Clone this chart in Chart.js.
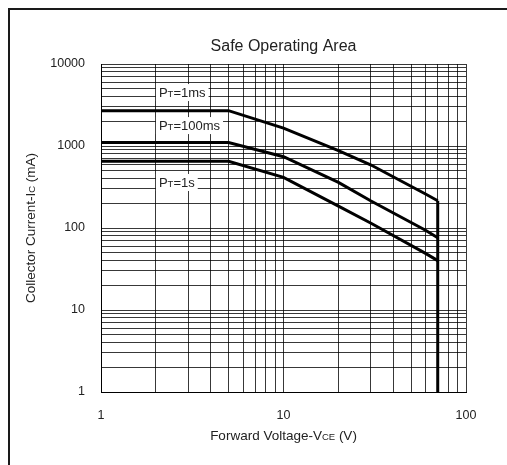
<!DOCTYPE html>
<html>
<head>
<meta charset="utf-8">
<script src="https://cdn.jsdelivr.net/npm/chart.js@4.4.0/dist/chart.umd.min.js"></script>
<style>
    html, body { margin: 0; padding: 0; background: #fff; overflow: hidden; }
    #wrap { position: relative; width: 507px; height: 465px; }
    #frame { position: absolute; left: 8px; top: 8px; width: 620px; height: 620px;
             border-left: 2px solid #1a1a1a; border-top: 2px solid #1a1a1a; }
    #soa { position: absolute; left: 0; top: 0; }
</style>
</head>
<body>
<div id="wrap">
    <div id="frame"></div>
    <canvas id="soa" width="507" height="465"></canvas>
</div>
<script>
// Data (VCE in V, IC in mA)
const vce = [1, 5, 10, 20, 30, 60, 70];
const ic1ms = [2700, 2700, 1650, 880, 590, 260, 215];
const ic100ms = [1100, 1100, 740, 360, 215, 94, 76];
const ic1s = [650, 650, 415, 185, 115, 49, 40];

// Vertical VCE limit at 70 V
const limitV = [70, 70];
const limitI = [215, 1];

// Tick labels and grid steps
const xTickLabels = ['1', '10', '100'];
const yTickLabels = ['1', '10', '100', '1000', '10000'];
const steps = [1, 2, 3, 4, 5, 6, 7, 8, 9];
const xDecades = [1, 10];
const yDecades = [1, 10, 100, 1000];

// Curve labels, anchored in data units (V, mA)
const curveNames = ['1ms', '100ms', '1s'];
const nameAnchorV = [2, 2, 2];
const nameAnchorI = [4550, 1800, 364];

const FONT = '"Liberation Sans", Arial, sans-serif';
const INK = '#222';

function gridValues(decades, top) {
    const vals = [];
    decades.forEach(d => steps.forEach(s => vals.push(d * s)));
    vals.push(top);
    return vals;
}

function toPoints(xs, ys) {
    return xs.map((x, i) => ({ x: x, y: ys[i] }));
}

// draws text made of parts with different font sizes on one baseline
function drawParts(ctx, parts, x, baseline, align) {
    let total = 0;
    parts.forEach(p => {
        ctx.font = p.s + 'px ' + FONT;
        p.w = ctx.measureText(p.t).width;
        total += p.w;
    });
    let cx = align === 'center' ? x - total / 2 : x;
    ctx.textAlign = 'left';
    ctx.textBaseline = 'alphabetic';
    parts.forEach(p => {
        ctx.font = p.s + 'px ' + FONT;
        ctx.fillText(p.t, cx, baseline);
        cx += p.w;
    });
    return total;
}

const textPlugin = {
    id: 'soaText',
    afterDraw(chart) {
        const { ctx, chartArea, scales } = chart;
        const midX = (chartArea.left + chartArea.right) / 2;
        const midY = (chartArea.top + chartArea.bottom) / 2;
        ctx.save();
        ctx.fillStyle = INK;

        // title
        drawParts(ctx, [{ t: 'Safe Operating Area', s: 16 }], midX, 51, 'center');

        // x axis title
        drawParts(ctx, [
            { t: 'Forward Voltage-V', s: 13.5 },
            { t: 'CE', s: 9.5 },
            { t: ' (V)', s: 13.5 }
        ], midX, 440, 'center');

        // y axis title
        ctx.save();
        ctx.translate(35, midY);
        ctx.rotate(-Math.PI / 2);
        drawParts(ctx, [
            { t: 'Collector Current-I', s: 13.5 },
            { t: 'C', s: 9.5 },
            { t: ' (mA)', s: 13.5 }
        ], 0, 0, 'center');
        ctx.restore();

        // curve labels with white boxes
        curveNames.forEach((name, i) => {
            const px = scales.x.getPixelForValue(nameAnchorV[i]) + 3;
            const py = scales.y.getPixelForValue(nameAnchorI[i]);
            const parts = [
                { t: 'P', s: 13 },
                { t: 'T', s: 9.5 },
                { t: '=' + name, s: 13 }
            ];
            let w = 0;
            parts.forEach(p => { ctx.font = p.s + 'px ' + FONT; w += ctx.measureText(p.t).width; });
            ctx.fillStyle = '#fff';
            ctx.fillRect(px - 3, py - 8, w + 6, 17);
            ctx.fillStyle = INK;
            drawParts(ctx, parts, px, py + 4.6, 'left');
        });
        ctx.restore();
    }
};

const lineStyle = {
    borderColor: '#000',
    borderWidth: 3,
    pointRadius: 0,
    tension: 0,
    fill: false,
    borderJoinStyle: 'miter'
};

const ctx = document.getElementById('soa').getContext('2d');
new Chart(ctx, {
    type: 'line',
    data: {
        datasets: [
            Object.assign({ label: 'PT=1ms', data: toPoints(vce, ic1ms) }, lineStyle),
            Object.assign({ label: 'PT=100ms', data: toPoints(vce, ic100ms) }, lineStyle),
            Object.assign({ label: 'PT=1s', data: toPoints(vce, ic1s) }, lineStyle),
            Object.assign({ label: 'VCE limit', data: toPoints(limitV, limitI) }, lineStyle)
        ]
    },
    options: {
        responsive: false,
        animation: false,
        devicePixelRatio: 1,
        layout: { padding: { left: 0, top: 64, right: 41, bottom: 0 } },
        plugins: {
            legend: { display: false },
            title: { display: false },
            tooltip: { enabled: false }
        },
        scales: {
            x: {
                type: 'logarithmic',
                min: 1,
                max: 100,
                afterFit: scale => { scale.height = 73; },
                afterBuildTicks: scale => {
                    scale.ticks = gridValues(xDecades, 100).map(v => ({ value: v }));
                },
                grid: { color: 'rgba(0,0,0,0.78)', lineWidth: 1, drawTicks: false },
                border: { color: '#000', width: 1 },
                ticks: {
                    autoSkip: false,
                    maxRotation: 0,
                    padding: 16,
                    color: INK,
                    font: { family: FONT, size: 12.5 },
                    callback: v => xTickLabels.includes(String(v)) ? String(v) : ''
                }
            },
            y: {
                type: 'logarithmic',
                min: 1,
                max: 10000,
                afterFit: scale => { scale.width = 101; },
                afterBuildTicks: scale => {
                    scale.ticks = gridValues(yDecades, 10000).map(v => ({ value: v }));
                },
                grid: { color: 'rgba(0,0,0,0.78)', lineWidth: 1, drawTicks: false },
                border: { color: '#000', width: 1 },
                ticks: {
                    autoSkip: false,
                    padding: 16,
                    color: INK,
                    font: { family: FONT, size: 12.5 },
                    callback: v => yTickLabels.includes(String(v)) ? String(v) : ''
                }
            }
        }
    },
    plugins: [textPlugin]
});
</script>
</body>
</html>
